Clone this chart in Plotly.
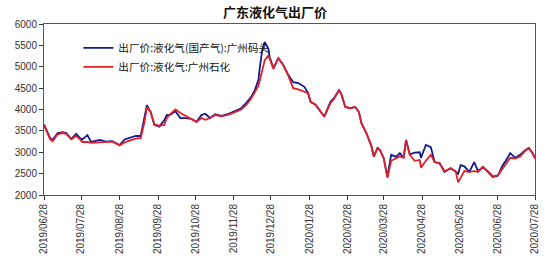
import plotly.graph_objects as go

dates = [
    "2019-06-28", "2019-06-30", "2019-07-03", "2019-07-05", "2019-07-09", "2019-07-13",
    "2019-07-16", "2019-07-20", "2019-07-24", "2019-07-27", "2019-07-29", "2019-08-02",
    "2019-08-05", "2019-08-12", "2019-08-17", "2019-08-22", "2019-08-28", "2019-09-01",
    "2019-09-05", "2019-09-10", "2019-09-14", "2019-09-17", "2019-09-19", "2019-09-22",
    "2019-09-25", "2019-09-29", "2019-10-03", "2019-10-05", "2019-10-08", "2019-10-12",
    "2019-10-16", "2019-10-20", "2019-10-25", "2019-10-29", "2019-11-02", "2019-11-05",
    "2019-11-09", "2019-11-13", "2019-11-18", "2019-11-24", "2019-11-29", "2019-12-04",
    "2019-12-08", "2019-12-12", "2019-12-15", "2019-12-18", "2019-12-19", "2019-12-21",
    "2019-12-23", "2019-12-26", "2019-12-27", "2019-12-30", "2020-01-03", "2020-01-07",
    "2020-01-11", "2020-01-15", "2020-01-19", "2020-01-24", "2020-01-27", "2020-01-29",
    "2020-02-02", "2020-02-05", "2020-02-09", "2020-02-14", "2020-02-17", "2020-02-21",
    "2020-02-23", "2020-02-26", "2020-03-01", "2020-03-05", "2020-03-08", "2020-03-10",
    "2020-03-14", "2020-03-18", "2020-03-20", "2020-03-23", "2020-03-25", "2020-03-28",
    "2020-03-30", "2020-03-31", "2020-04-03", "2020-04-07", "2020-04-10", "2020-04-13",
    "2020-04-15", "2020-04-18", "2020-04-22", "2020-04-26", "2020-04-27", "2020-05-01",
    "2020-05-05", "2020-05-08", "2020-05-12", "2020-05-16", "2020-05-21", "2020-05-25",
    "2020-05-27", "2020-05-29", "2020-06-01", "2020-06-05", "2020-06-09", "2020-06-12",
    "2020-06-16", "2020-06-20", "2020-06-24", "2020-06-28", "2020-07-02", "2020-07-04",
    "2020-07-08", "2020-07-12", "2020-07-16", "2020-07-20", "2020-07-23", "2020-07-26",
    "2020-07-28",
]

guangzhou_wharf = [
    3650, 3520, 3330, 3290, 3450, 3470,
    3450, 3310, 3430, 3330, 3300, 3400,
    3240, 3290, 3250, 3260, 3170, 3300,
    3330, 3380, 3380, 3830, 4100, 3940,
    3640, 3600, 3750, 3870, 3880, 3960,
    3800, 3800, 3780, 3710, 3870, 3900,
    3800, 3890, 3850, 3900, 3970, 4030,
    4150, 4290, 4450, 4700, 4970, 5390,
    5580, 5420, 5230, 4970, 5200, 5040,
    4810, 4640, 4620, 4530, 4390, 4180,
    4110, 3990, 3830, 4180, 4270, 4460,
    4340, 4060, 4030, 4060, 3940, 3680,
    3450, 3150, 2900, 3100, 3050, 2860,
    2600, 2430, 2940, 2890, 2980, 2870,
    3290, 2950, 2990, 3000, 2870, 3170,
    3120, 2770, 2750, 2540, 2630, 2540,
    2500, 2700, 2670, 2540, 2770, 2560,
    2650, 2540, 2420, 2450, 2700, 2780,
    2980, 2870, 2940, 3050, 3100, 2980,
    2870,
]

guangzhou_petrochem = [
    3630, 3500, 3300, 3260, 3420, 3450,
    3430, 3300, 3380, 3300, 3240, 3240,
    3220, 3230, 3240, 3250, 3160, 3230,
    3270, 3320, 3330, 3700, 4050, 3950,
    3650, 3620, 3640, 3800, 3900, 4000,
    3920, 3850, 3780, 3710, 3800, 3760,
    3800, 3870, 3840, 3880, 3940, 4000,
    4100, 4250, 4400, 4560, 4680, 4900,
    5150, 5270, 5200, 4950, 5200, 5040,
    4790, 4500, 4470, 4410, 4380, 4180,
    4110, 4000, 3830, 4150, 4250, 4450,
    4350, 4060, 4030, 4060, 3940, 3680,
    3450, 3150, 2900, 3100, 3050, 2860,
    2600, 2400, 2800, 2850, 2900, 2870,
    3280, 2940, 2800, 2820, 2640, 2800,
    2940, 2770, 2740, 2560, 2620, 2560,
    2300, 2400, 2560, 2540, 2560, 2540,
    2660, 2560, 2440, 2460, 2620, 2700,
    2870, 2850, 2900, 3030, 3100, 2980,
    2850,
]

series_names = ["出厂价:液化气(国产气):广州码头", "出厂价:液化气:广州石化"]
tick_dates = [
    "2019-06-28", "2019-07-28", "2019-08-28", "2019-09-28", "2019-10-28", "2019-11-28",
    "2019-12-28", "2020-01-28", "2020-02-28", "2020-03-28", "2020-04-28", "2020-05-28",
    "2020-06-28", "2020-07-28",
]
tick_labels = [d.replace("-", "/") for d in tick_dates]
title_text = "广东液化气出厂价"

fig = go.Figure()
fig.add_trace(go.Scatter(x=dates, y=guangzhou_wharf, mode="lines", name=series_names[0],
                         line=dict(color="#101c8c", width=1.8)))
fig.add_trace(go.Scatter(x=dates, y=guangzhou_petrochem, mode="lines", name=series_names[1],
                         line=dict(color="#e3202a", width=1.8)))

fig.update_layout(
    width=550, height=271,
    margin=dict(l=44, r=10, t=24, b=76),
    paper_bgcolor="white", plot_bgcolor="white",
    title=dict(text="<b>" + title_text + "</b>", x=0.5, xanchor="center", y=0.955, yanchor="middle",
               font=dict(family="Noto Sans CJK SC", size=13, color="#111")),
    showlegend=True,
    legend=dict(x=0.07, y=0.945, xanchor="left", yanchor="top", bgcolor="rgba(0,0,0,0)",
                font=dict(family="Noto Sans CJK SC", size=10.6, color="#111"),
                tracegroupgap=0, itemwidth=30),
    font=dict(family="Arial, Liberation Sans", size=10, color="#222"),
)
fig.update_xaxes(
    type="date", range=["2019-06-28", "2020-07-28"],
    tickvals=tick_dates, ticktext=tick_labels, tickangle=-90,
    ticks="outside", ticklen=4, tickcolor="#333",
    showgrid=False, showline=True, linecolor="#555", linewidth=1, mirror=True,
    tickfont=dict(family="Arial, Liberation Sans", size=10, color="#333"),
)
fig.update_yaxes(
    range=[2000, 6000], dtick=500, tick0=2000,
    ticks="outside", ticklen=4, tickcolor="#333",
    showgrid=False, showline=True, linecolor="#555", linewidth=1, mirror=True,
    zeroline=False,
    tickfont=dict(family="Arial, Liberation Sans", size=10, color="#333"),
)

fig.write_html("out.html")
